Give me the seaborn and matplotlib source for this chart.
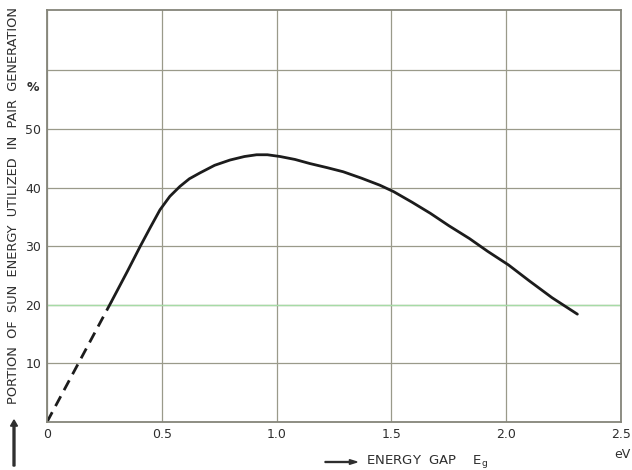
import matplotlib
matplotlib.use("Agg")
import matplotlib.pyplot as plt
import seaborn as sns
import pandas as pd

# dashed extrapolation toward origin
dash_x = [0.0, 0.28]
dash_y = [0.0, 20.5]

# measured curve (eV, % of sun energy)
curve_x = [0.28, 0.35, 0.405, 0.45, 0.492, 0.535, 0.579, 0.62, 0.666, 0.73, 0.797,
           0.86, 0.913, 0.96, 1.015, 1.08, 1.145, 1.22, 1.29, 1.37, 1.45, 1.51,
           1.59, 1.67, 1.75, 1.84, 1.92, 2.01, 2.10, 2.20, 2.31]
curve_y = [20.5, 25.7, 29.9, 33.2, 36.2, 38.5, 40.2, 41.5, 42.5, 43.8, 44.7,
           45.3, 45.6, 45.6, 45.3, 44.8, 44.1, 43.4, 42.7, 41.6, 40.4, 39.3,
           37.5, 35.6, 33.5, 31.3, 29.1, 26.8, 24.1, 21.2, 18.4]

x_ticks = [0, 0.5, 1.0, 1.5, 2.0, 2.5]
x_tick_labels = ["0", "0.5", "1.0", "1.5", "2.0", "2.5"]
y_ticks = [10, 20, 30, 40, 50, 60]
y_tick_labels = ["10", "20", "30", "40", "50", ""]

sns.set_style("white")
plt.rcParams["font.family"] = ["DejaVu Sans"]

grid_c = "#9a9a8a"
ink = "#1c1c1c"
txt = "#2e2e2e"

fig = plt.figure(figsize=(6.32, 4.70), dpi=100)
ax = fig.add_axes([47 / 632, 48 / 470, 574 / 632, 412 / 470])

df_solid = pd.DataFrame({"x": curve_x, "y": curve_y})
df_dash = pd.DataFrame({"x": dash_x, "y": dash_y})
sns.lineplot(data=df_solid, x="x", y="y", ax=ax, color=ink, lw=2.0, sort=False)
sns.lineplot(data=df_dash, x="x", y="y", ax=ax, color=ink, lw=2.0, sort=False,
             linestyle=(0, (4, 2.5)))

ax.set_xlim(0, 2.5)
ax.set_ylim(0, 70.3)
ax.set_xticks(x_ticks)
ax.set_xticklabels(x_tick_labels)
ax.set_yticks(y_ticks)
ax.set_yticklabels(y_tick_labels)
ax.tick_params(length=0, labelsize=9, colors=txt, pad=4)
ax.grid(True, color=grid_c, lw=0.9)
ax.axhline(20, color="#a6dba6", lw=1.0, zorder=1)
for s in ax.spines.values():
    s.set_color("#85857a")
    s.set_linewidth(1.3)
ax.set_xlabel("")
ax.set_ylabel("")

ax.text(-0.06, 57, "%", ha="center", va="center", fontsize=9, color=txt,
        fontweight="bold", clip_on=False)
fig.text(614 / 632, 1 - 454 / 470, "eV", ha="left", va="center", fontsize=9, color=txt)

# axis captions with arrows
fig.text(366 / 632, 1 - 462 / 470, r"ENERGY  GAP    $\mathregular{E_g}$", ha="left",
         va="center", fontsize=9.5, color=txt)
fig.patches.append(matplotlib.patches.FancyArrow(
    325 / 632, 1 - 462 / 470, 32 / 632, 0, width=0.002, head_width=0.01,
    head_length=0.012, length_includes_head=True, color=txt,
    transform=fig.transFigure))
fig.text(14 / 632, 1 - 7 / 470, "PORTION  OF  SUN  ENERGY  UTILIZED  IN  PAIR  GENERATION",
         rotation=90, ha="center", va="top", fontsize=9.3, color=txt)
fig.patches.append(matplotlib.patches.FancyArrow(
    14 / 632, 1 - 466 / 470, 0, 46 / 470, width=0.003, head_width=0.011,
    head_length=0.013, length_includes_head=True, color=txt,
    transform=fig.transFigure))

fig.savefig("out.png", dpi=100)
